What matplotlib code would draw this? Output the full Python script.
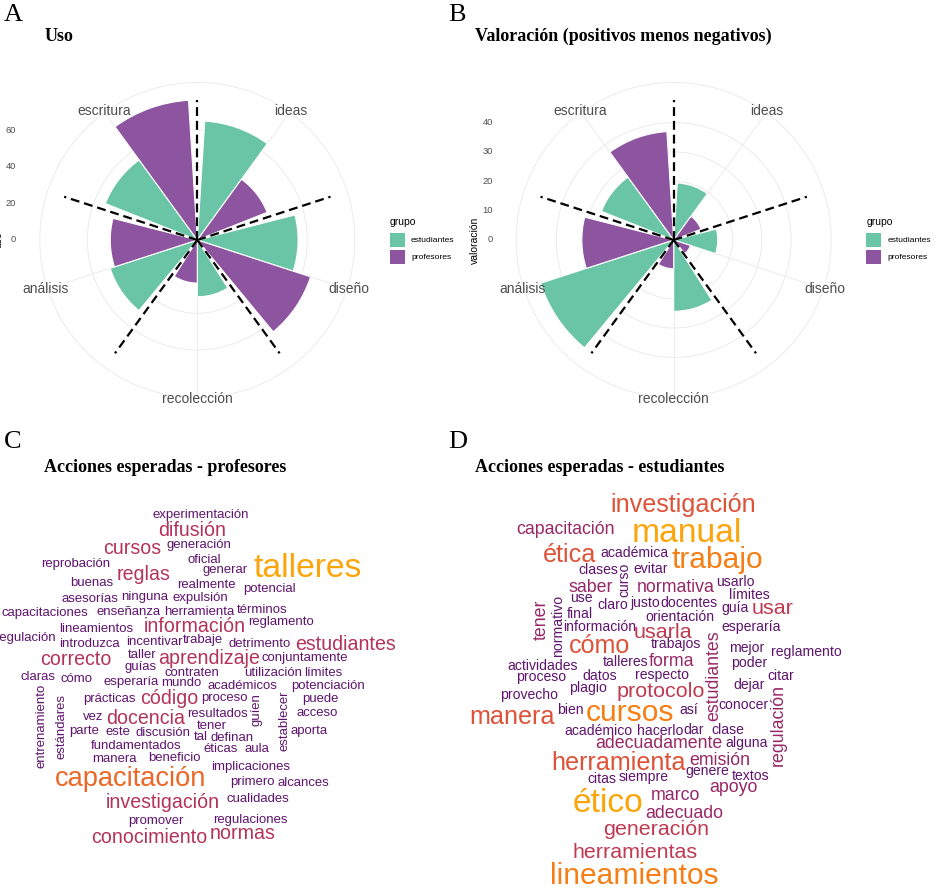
import numpy as np
import matplotlib.pyplot as plt
from matplotlib import transforms
from matplotlib.patches import Rectangle

plt.rcParams['font.family'] = ['Liberation Sans', 'DejaVu Sans']

# --- datos de los diagramas polares ---
categorias = ['ideas', 'diseño', 'recolección', 'análisis', 'escritura']
grupos = ['estudiantes', 'profesores']
colores = ['#6AC4A6', '#8D55A0']

uso_estudiantes = [65, 55, 31, 50, 54]
uso_profesores = [41, 65, 23.5, 47.5, 76.4]
uso_breaks = [0, 20, 40, 60]

val_estudiantes = [19.5, 15, 24.3, 47.7, 26.5]
val_profesores = [10, 6, 9.8, 31.3, 37]
val_breaks = [0, 10, 20, 30, 40]

# --- nube C: acciones esperadas por profesores (palabra, x, y, tamaño en px) ---
palabras_prof = ['experimentación', 'difusión', 'cursos', 'generación', 'oficial', 'talleres',
                 'reprobación', 'reglas', 'generar', 'buenas', 'realmente', 'potencial',
                 'asesorías', 'ninguna', 'expulsión', 'capacitaciones', 'enseñanza', 'herramienta',
                 'términos', 'reglamento', 'lineamientos', 'información', 'regulación', 'introduzca',
                 'incentivar', 'trabaje', 'detrimento', 'estudiantes', 'correcto', 'taller',
                 'aprendizaje', 'conjuntamente', 'guías', 'claras', 'cómo', 'contraten',
                 'utilización', 'límites', 'esperaría', 'mundo', 'académicos', 'potenciación',
                 'prácticas', 'código', 'proceso', 'guíen', 'establecer', 'puede',
                 'acceso', 'vez', 'docencia', 'resultados', 'tener', 'aporta',
                 'parte', 'este', 'discusión', 'tal', 'definan', 'fundamentados',
                 'éticas', 'aula', 'manera', 'beneficio', 'entrenamiento', 'estándares',
                 'implicaciones', 'capacitación', 'primero', 'alcances', 'investigación', 'cualidades',
                 'promover', 'regulaciones', 'conocimiento', 'normas']
x_prof = [201, 192.2, 132, 199.2, 204.7, 307.8,
          75.8, 143.7, 224.8, 92.2, 206.7, 269.7,
          89.5, 144.2, 200.8, 45, 128.7, 199.7,
          262.3, 281.2, 96, 195.2, 25.8, 89.3,
          154.7, 202.7, 260, 346, 75.5, 141.8,
          209.2, 305, 140.5, 37.8, 76.7, 192.2,
          273, 322.8, 130.8, 181.7, 242, 328.3,
          109.7, 168.8, 224.7, 256.7, 285, 320,
          317.5, 93, 145.2, 218, 212.2, 308.7,
          84.3, 117.5, 163.5, 200.8, 231.7, 136.2,
          220.5, 257.2, 114.2, 174.3, 41.7, 61.7,
          250.3, 130.8, 252.5, 303.2, 162.5, 258,
          156.2, 250.5, 149.7, 242.2]
y_prof = [515, 530.7, 548.3, 545, 560, 568.3,
          564, 575, 570, 582.7, 585, 589.3,
          599, 597.3, 597.7, 613.3, 611.7, 611.7,
          610, 622.3, 629.3, 626, 638.3, 644,
          641.7, 640, 644.3, 644, 659.3, 655,
          658.3, 657.7, 666.7, 676.7, 679, 673.3,
          673.3, 672.7, 681.7, 682.7, 686, 686,
          699.3, 698.3, 698.3, 709.2, 720.8, 699.3,
          713.3, 716.7, 718.3, 714.3, 725.7, 731,
          731, 731.7, 732.7, 736.7, 738.3, 745.7,
          749.3, 749.3, 759.3, 757.7, 726.2, 726.3,
          767.3, 779.3, 781.7, 783.3, 802.7, 799.3,
          820.7, 820, 837.7, 833.3]
tam_prof = [13.1, 19.7, 19.7, 13.1, 13.1, 33.8,
            13.1, 19.7, 13.1, 13.1, 13.1, 13.1,
            13.1, 13.1, 13.1, 13.1, 13.1, 13.1,
            13.1, 13.1, 13.1, 19.7, 13.1, 13.1,
            13.1, 13.1, 13.1, 19.7, 19.7, 13.1,
            19.7, 13.1, 13.1, 13.1, 13.1, 13.1,
            13.1, 13.1, 13.1, 13.1, 13.1, 13.1,
            13.1, 19.7, 13.1, 13.1, 13.1, 13.1,
            13.1, 13.1, 19.7, 13.1, 13.1, 13.1,
            13.1, 13.1, 13.1, 13.1, 13.1, 13.1,
            13.1, 13.1, 13.1, 13.1, 13.1, 13.1,
            13.1, 27.3, 13.1, 13.1, 19.7, 13.1,
            13.1, 13.1, 19.7, 19.7]
verticales_prof = ['guíen', 'establecer', 'entrenamiento', 'estándares']

# --- nube D: acciones esperadas por estudiantes ---
palabras_est = ['investigación', 'capacitación', 'manual', 'ética', 'académica', 'trabajo',
                'clases', 'curso', 'evitar', 'saber', 'normativa', 'usarlo',
                'límites', 'use', 'normativo', 'tener', 'final', 'claro',
                'justo', 'docentes', 'guía', 'usar', 'orientación', 'información',
                'usarla', 'esperaría', 'cómo', 'trabajos', 'mejor', 'reglamento',
                'estudiantes', 'actividades', 'talleres', 'forma', 'poder', 'proceso',
                'datos', 'respecto', 'citar', 'dejar', 'plagio', 'protocolo',
                'provecho', 'conocer', 'manera', 'bien', 'cursos', 'así',
                'académico', 'hacerlo', 'dar', 'clase', 'adecuadamente', 'alguna',
                'regulación', 'herramienta', 'emisión', 'genere', 'textos', 'citas',
                'siempre', 'apoyo', 'ético', 'marco', 'adecuado', 'generación',
                'herramientas', 'lineamientos']
x_est = [683, 565.5, 686.7, 570, 634, 717.8,
         598, 624, 650.5, 590.5, 675.8, 735.5,
         749, 581.8, 557.7, 541.7, 579.7, 612.5,
         645.5, 689, 735, 772.5, 679.5, 599.5,
         663, 750.8, 599.7, 675.8, 746.5, 806,
         713.3, 543, 625.5, 671.8, 749.5, 541,
         599.3, 662.5, 781, 748.7, 588.3, 660.8,
         529, 743.8, 511.8, 570.5, 630, 689,
         598.8, 659.7, 693.3, 727.8, 659.2, 747,
         778.3, 618.3, 719.7, 707.7, 750.5, 602.2,
         643.8, 733, 608.3, 675, 684.2, 656,
         635.5, 634.7]
y_est = [505, 529, 533, 555, 553, 560,
         570, 580, 569, 587, 588, 582,
         595, 598, 626, 620, 614, 605,
         603, 603, 608, 608, 617, 627,
         632, 627, 645.7, 644, 648, 652,
         676, 666, 661.7, 661.7, 663, 677,
         676, 674.7, 676, 685, 688, 691.7,
         695, 705, 716.7, 710, 713.3, 710,
         731, 731, 730, 730, 744, 742.7,
         725, 762.7, 760.7, 770.7, 776, 779.3,
         777.3, 787.3, 803.3, 796, 813.3, 829.3,
         852.7, 876]
tam_est = [25.1, 17.7, 33.7, 25.1, 14, 30,
           14, 14, 14, 17.7, 17.7, 14,
           14, 14, 14, 17.7, 14, 14,
           14, 14, 14, 21.5, 14, 14,
           21.5, 14, 25.1, 14, 14, 14,
           17.7, 14, 14, 17.7, 14, 14,
           14, 14, 14, 14, 14, 21.5,
           14, 14, 25.1, 14, 30, 14,
           14, 14, 14, 14, 17.7, 14,
           17.7, 25.1, 17.7, 14, 14, 14,
           14, 17.7, 33.7, 17.7, 17.7, 21.5,
           21.5, 30]
verticales_est = ['curso', 'normativo', 'tener', 'estudiantes', 'regulación']

W, H = 936, 894
fig = plt.figure(figsize=(W / 100, H / 100), dpi=100)


def fx(x):
    return x / W


def fy(y):
    return 1 - y / H


def rosa(cx, cy, est, prof, breaks, ytitulo):
    R = 157.5
    ax = fig.add_axes([fx(cx - R), fy(cy + R), 2 * R / W, 2 * R / H], projection='polar')
    ax.set_theta_zero_location('N')
    ax.set_theta_direction(-1)
    vmax = max(max(est), max(prof))
    rmax = vmax * 0.45 / 0.4
    ax.set_ylim(0, rmax)
    n = len(categorias)
    paso = 2 * np.pi / n
    centros = paso * (np.arange(n) + 0.5)
    ancho = paso * 0.9 / 2
    ax.bar(centros - ancho / 2, est, width=ancho, color=colores[0], edgecolor='white', linewidth=0.8)
    ax.bar(centros + ancho / 2, prof, width=ancho, color=colores[1], edgecolor='white', linewidth=0.8)
    for t in paso * np.arange(n):
        ax.plot([t, t], [0, vmax], color='black', linestyle=(0, (4, 2.2)), linewidth=1.6)
    ax.set_axisbelow(True)
    ax.set_xticks(centros)
    ax.set_xticklabels([])
    ax.set_yticks(breaks)
    ax.set_yticklabels([])
    ax.tick_params(length=0)
    ax.grid(color='#EBEBEB', linewidth=0.7)
    ax.spines['polar'].set_color('#EBEBEB')
    ax.spines['polar'].set_linewidth(0.7)
    for t, lab in zip(centros, categorias):
        ax.text(t, rmax * 1.01, lab, ha='center', va='center', fontsize=10, color='#4D4D4D')
    off = transforms.ScaledTranslation(-181 / 100, 0, fig.dpi_scale_trans)
    for b in breaks:
        ax.text(0, b, str(b), transform=ax.transData + off, ha='right', va='center',
                fontsize=6.7, color='#4D4D4D')
    off2 = transforms.ScaledTranslation(-198.5 / 100, 0, fig.dpi_scale_trans)
    ax.text(0, 0, ytitulo, transform=ax.transData + off2, rotation=90, ha='center',
            va='center', fontsize=7.5)
    # leyenda
    x0 = cx + 192.7
    fig.text(fx(x0), fy(222), 'grupo', fontsize=7.5, ha='left', va='center')
    for i, (lab, col) in enumerate(zip(grupos, colores)):
        y = 232.7 + 17.3 * i
        fig.add_artist(Rectangle((fx(x0), fy(y + 14)), 15 / W, 14 / H, facecolor=col,
                                 edgecolor='none', transform=fig.transFigure))
        fig.text(fx(x0 + 21), fy(y + 7.5), lab, fontsize=6.1, ha='left', va='center')
    return ax


def nube(ax, palabras, xs, ys, tams, verticales):
    smin, smax = min(tams), max(tams)
    cmap = plt.get_cmap('inferno')
    for p, x, y, s in zip(palabras, xs, ys, tams):
        t = ((s - smin) / (smax - smin)) ** 0.8
        ax.text(x, y, p, fontsize=s * 0.72, color=cmap(0.27 + 0.53 * t), ha='center',
                va='center', rotation=90 if p in verticales else 0)


rosa(197.3, 240, uso_estudiantes, uso_profesores, uso_breaks, 'uso')
rosa(673.7, 240, val_estudiantes, val_profesores, val_breaks, 'valoración')

ax_c = fig.add_axes([0, 0, 0.5, 0.5])
ax_c.set_xlim(0, 468)
ax_c.set_ylim(894, 447)
ax_c.axis('off')
nube(ax_c, palabras_prof, x_prof, y_prof, tam_prof, verticales_prof)

ax_d = fig.add_axes([0.5, 0, 0.5, 0.5])
ax_d.set_xlim(468, 936)
ax_d.set_ylim(894, 447)
ax_d.axis('off')
nube(ax_d, palabras_est, x_est, y_est, tam_est, verticales_est)

# letras de panel y titulos
serif = ['Liberation Serif', 'DejaVu Serif']
for letra, x, y in [('A', 4, 20.7), ('B', 448.3, 20.7), ('C', 4, 448), ('D', 448.3, 448)]:
    fig.text(fx(x), fy(y), letra, fontsize=19, family=serif, ha='left', va='baseline')
titulos = [('Uso', 44.3, 40.7), ('Valoración (positivos menos negativos)', 475.3, 40.7),
           ('Acciones esperadas - profesores', 44.3, 471.5),
           ('Acciones esperadas - estudiantes', 475.3, 471.5)]
for txt, x, y in titulos:
    fig.text(fx(x), fy(y), txt, fontsize=13, weight='bold', family=serif, ha='left', va='baseline')

fig.savefig('out.png', dpi=100)
